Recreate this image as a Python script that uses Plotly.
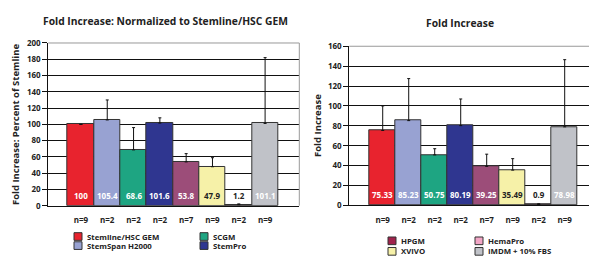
import plotly.graph_objects as go

# ---------------- data ----------------
media_colors = ["#e8232e", "#98a2d2", "#1ea582", "#2f3690", "#9c4d79", "#f6f1a8", "#3a1020", "#c0c2c8"]
n_labels = ["n=9", "n=2", "n=2", "n=2", "n=7", "n=9", "n=2", "n=9"]

left_values = [100, 105.4, 68.6, 101.6, 53.8, 47.9, 1.2, 101.1]
left_upper = [100, 130, 96, 108, 64, 59, 2.2, 182]
left_labels = ["100", "105.4", "68.6", "101.6", "53.8", "47.9", "1.2", "101.1"]

right_values = [75.33, 85.23, 50.75, 80.19, 39.25, 35.49, 0.9, 78.98]
right_upper = [100, 127.5, 57, 107, 51.5, 47, 1.6, 146.5]
right_labels = ["75.33", "85.23", "50.75", "80.19", "39.25", "35.49", "0.9", "78.98"]

label_colors = ["white", "white", "white", "white", "white", "#222", "#222", "white"]

left_legend = [("Stemline/HSC GEM", "#e8232e"), ("SCGM", "#1ea582"),
               ("StemSpan H2000", "#98a2d2"), ("StemPro", "#2f3690")]
right_legend = [("HPGM", "#a0234c"), ("HemaPro", "#f2a6c6"),
                ("XVIVO", "#f6f1a8"), ("IMDM + 10% FBS", "#c0c2c8")]

# ---------------- layout helpers ----------------
W, H = 597, 256
OFF = 8  # default page body margin
def px(x): return (x - OFF) / W
def py(y): return 1 - (y - OFF) / H

FONT = "Open Sans"
fig = go.Figure()

xs = list(range(len(left_values)))

def add_chart(values, upper, xa, ya):
    fig.add_trace(go.Bar(
        x=xs, y=values, width=1.0,
        marker=dict(color=media_colors, line=dict(color="#333", width=1)),
        error_y=dict(type="data", symmetric=False,
                     array=[u - v for u, v in zip(upper, values)],
                     arrayminus=[0] * len(values),
                     color="#111", thickness=1, width=1.5),
        xaxis=xa, yaxis=ya, showlegend=False, hoverinfo="skip"))

add_chart(left_values, left_upper, "x", "y")
add_chart(right_values, right_upper, "x2", "y2")

tickfont = dict(family=FONT, size=8, color="#222", weight="bold")
axis_x_common = dict(tickmode="array", tickvals=xs, ticktext=n_labels, ticks="",
                     showgrid=False, zeroline=False, showline=True, linecolor="#111",
                     linewidth=1, tickfont=tickfont, ticklabelstandoff=7, fixedrange=True)
axis_y_common = dict(showgrid=True, gridcolor="#111", gridwidth=1, zeroline=False,
                     showline=True, linecolor="#111", linewidth=1, ticks="outside",
                     ticklen=5, tickcolor="#111", tickfont=tickfont, fixedrange=True)

annotations = []
shapes = []
for i in xs:
    annotations.append(dict(x=i, y=0, xref="x", yref="y", text=left_labels[i],
                            yanchor="bottom", yshift=3, showarrow=False,
                            font=dict(family=FONT, size=8, color=label_colors[i], weight="bold")))
    annotations.append(dict(x=i, y=0, xref="x2", yref="y2", text=right_labels[i],
                            yanchor="bottom", yshift=3, showarrow=False,
                            font=dict(family=FONT, size=8, color=label_colors[i], weight="bold")))

# titles
annotations += [
    dict(x=px(165), y=py(15), xref="paper", yref="paper", showarrow=False,
         text="Fold Increase: Normalized to Stemline/HSC GEM", xanchor="center", yanchor="middle",
         font=dict(family=FONT, size=10.3, color="#222", weight="bold")),
    dict(x=px(460), y=py(17), xref="paper", yref="paper", showarrow=False,
         text="Fold Increase", xanchor="center", yanchor="middle",
         font=dict(family=FONT, size=10.3, color="#222", weight="bold")),
    dict(x=px(15), y=py(123), xref="paper", yref="paper", showarrow=False, textangle=-90,
         text="Fold Increase: Percent of Stemline", xanchor="center", yanchor="middle",
         font=dict(family=FONT, size=9.5, color="#222", weight="bold")),
    dict(x=px(318), y=py(125), xref="paper", yref="paper", showarrow=False, textangle=-90,
         text="Fold Increase", xanchor="center", yanchor="middle",
         font=dict(family=FONT, size=9.5, color="#222", weight="bold")),
]

# legends
def add_legend(items, col_x, row_y):
    for k, (name, col) in enumerate(items):
        cx = col_x[k % 2]
        cy = row_y[k // 2]
        shapes.append(dict(type="rect", xref="paper", yref="paper",
                           x0=px(cx), x1=px(cx + 8), y0=py(cy + 4), y1=py(cy - 4),
                           fillcolor=col, line=dict(color="#333", width=1)))
        annotations.append(dict(x=px(cx + 12), y=py(cy), xref="paper", yref="paper",
                                text=name, showarrow=False, xanchor="left", yanchor="middle",
                                borderpad=0,
                                font=dict(family=FONT, size=7.8, color="#222", weight="bold")))

add_legend(left_legend, [74, 200], [240.5, 250])
add_legend(right_legend, [388, 475], [245, 256])

# gray frame lines (top & right)
for xa, ya in (("x", "y"), ("x2", "y2")):
    shapes.append(dict(type="line", xref=f"{xa} domain", yref=f"{ya} domain",
                       x0=0, x1=1, y0=1, y1=1, line=dict(color="#999", width=1)))
shapes.append(dict(type="line", xref="x domain", yref="y domain",
                   x0=1, x1=1, y0=0, y1=1, line=dict(color="#999", width=1)))

fig.update_layout(
    width=W, height=H, margin=dict(l=0, r=0, t=0, b=0),
    paper_bgcolor="white", plot_bgcolor="white", bargap=0,
    xaxis=dict(domain=[px(48.3), px(299.3)], range=[-1.24, 8.3], anchor="y", **axis_x_common),
    yaxis=dict(domain=[py(208.3), py(38.3)], range=[0, 200], dtick=20, anchor="x", **axis_y_common),
    xaxis2=dict(domain=[px(349.3), 1.0], range=[-1.285, 8.55], anchor="y2", **axis_x_common),
    yaxis2=dict(domain=[py(208), py(41.7)], range=[0, 160], dtick=20, anchor="x2", **axis_y_common),
    annotations=annotations, shapes=shapes, showlegend=False,
)

fig.write_html("out.html")
